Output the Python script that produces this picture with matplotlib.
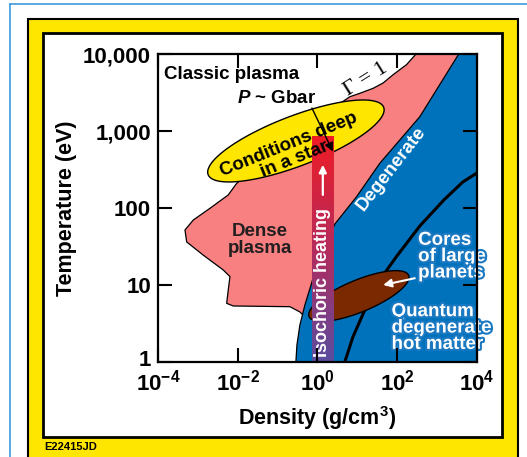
import numpy as np
import matplotlib
matplotlib.use("Agg")
import matplotlib.pyplot as plt
import matplotlib.patheffects as pe
from matplotlib.patches import Rectangle
from matplotlib.lines import Line2D
from matplotlib.colors import LinearSegmentedColormap
from matplotlib.transforms import ScaledTranslation

plt.rcParams['font.family'] = ['Liberation Sans', 'DejaVu Sans']
plt.rcParams['font.weight'] = 'bold'
plt.rcParams['mathtext.fontset'] = 'custom'
plt.rcParams['mathtext.rm'] = 'Liberation Sans:bold'
plt.rcParams['mathtext.bf'] = 'Liberation Sans:bold'
plt.rcParams['mathtext.it'] = 'Liberation Sans:bold:italic'

# axis ticks
x_ticks = [1e-4, 1e-2, 1e0, 1e2, 1e4]
x_tick_labels = [r'$10^{-4}$', r'$10^{-2}$', r'$10^{0}$', r'$10^{2}$', r'$10^{4}$']
y_ticks = [1, 10, 100, 1000, 10000]
y_tick_labels = ['1', '10', '100', '1,000', '10,000']

# dense plasma region (Gamma = 1 line on top, then the lobe on the left)
pink_rho = [355, 171, 78.9, 44.4, 24.9, 11.6, 6.49, 0.362, 9.38e-3,
            5.78e-3, 2.01e-3, 7.67e-4, 4.75e-4, 5.24e-4, 1.36e-3, 4.34e-3,
            6.38e-3, 5.78e-3, 5.27e-3, 7.71e-3, 0.203, 0.362, 10, 2e4, 2e4]
pink_t = [11200, 7330, 5430, 4240, 3610, 3110, 2805, 1014, 209,
          148, 99.1, 69.8, 51.8, 36.2, 24.4, 15.6,
          12.8, 8.57, 5.75, 5.31, 5.20, 4.44, 0.8, 0.8, 12000]

# degenerate region, left boundary from top to bottom
blue_rho = [4300, 368, 36.6, 9.44, 2.73, 1.15, 0.711, 0.483, 0.362, 0.305, 0.28, 2e4, 2e4]
blue_t = [12000, 1540, 382, 139, 61.9, 24.4, 10.5, 5.47, 3.01, 1.65, 0.8, 0.8, 12000]

# quantum degenerate boundary
curve_rho = [9890, 4406, 1472, 368, 97.7, 36.6, 14.6, 7.71, 4.86]
curve_t = [285, 218, 127, 58.3, 23.7, 11.6, 4.44, 2.09, 1.0]

# ellipses: centre (rho, T), semi axes in axes-width units, tilt in degrees
star_centre = (0.2875, 745)
star_axes = (0.2947, 0.0784, 21)
planet_centre = (10.9, 7.16)
planet_axes = (0.169, 0.050, 22.5)

# isochoric heating bar
bar_rho = (0.71, 2.6)
bar_t = (1.0, 870)

PINK = '#f88080'
BLUE = '#0072bc'
YELLOW = '#ffe600'
BROWN = '#7a2900'

fig = plt.figure(figsize=(5.27, 4.57), dpi=100)

# frame decorations
fig.add_artist(Line2D([0.019, 0.019], [0, 0.9912], color='#3d9bdb', lw=1.2, zorder=-5))
fig.add_artist(Line2D([0.019, 1.0], [0.9912, 0.9912], color='#3d9bdb', lw=1.2, zorder=-5))
fig.add_artist(Rectangle((0.0537, -0.05), 0.9287, 1.0084, facecolor=YELLOW,
                         edgecolor='black', lw=1.5, zorder=-4))
fig.add_artist(Rectangle((0.0822, 0.0431), 0.8698, 0.884, facecolor='white',
                         edgecolor='black', lw=2, zorder=-3))
fig.text(0.0835, 0.0219, 'E22415JD', fontsize=8, fontweight='bold', va='center', ha='left')

ax = fig.add_axes([0.2998, 0.2085, 0.6053, 0.6727])
ax.set_xscale('log')
ax.set_yscale('log')
ax.set_xlim(1e-4, 1e4)
ax.set_ylim(1, 1e4)
ax.patch.set_alpha(0)


def ellipse(centre, shape, n=200):
    a, b, ang = shape
    ang = np.radians(ang)
    t = np.linspace(0, 2 * np.pi, n)
    du = a * np.cos(t) * np.cos(ang) - b * np.sin(t) * np.sin(ang)
    dv = a * np.cos(t) * np.sin(ang) + b * np.sin(t) * np.cos(ang)
    bb = ax.get_position()
    aspect = (bb.width * fig.get_figwidth()) / (bb.height * fig.get_figheight())
    x = 10 ** (np.log10(centre[0]) + du * 8)
    y = 10 ** (np.log10(centre[1]) + dv * aspect * 4)
    return x, y


ax.fill(pink_rho, pink_t, facecolor=PINK, edgecolor='black', lw=0.9, zorder=1)
ax.fill(blue_rho, blue_t, facecolor=BLUE, edgecolor='black', lw=0.9, zorder=1.2)
ax.plot(curve_rho, curve_t, color='black', lw=2.2, zorder=2)

ex, ey = ellipse(star_centre, star_axes)
ax.fill(ex, ey, facecolor=YELLOW, edgecolor='black', lw=1, zorder=3)
ex, ey = ellipse(planet_centre, planet_axes)
ax.fill(ex, ey, facecolor=BROWN, edgecolor='black', lw=1, zorder=3)

# gradient bar
cmap = LinearSegmentedColormap.from_list('bar', [(0, '#5b4c9e'), (0.5, '#b42a5c'), (1, '#ee1c25')])
levels = np.logspace(np.log10(bar_t[0]), np.log10(bar_t[1]), 81)
for i in range(len(levels) - 1):
    ax.fill_between(bar_rho, levels[i], levels[i + 1] * 1.002, color=cmap(i / (len(levels) - 2)),
                    lw=0, zorder=4)

outline = [pe.withStroke(linewidth=3, foreground='#1b79c2')]
fs = 13.5
ax.text(1.41e-4, 5380, 'Classic plasma', ha='left', va='center', fontsize=fs, zorder=6)
ax.text(0.94, 2620, r'$P$ ~ Gbar', ha='right', va='center', fontsize=fs, zorder=6)
ax.annotate('', xy=(2.43, 543), xytext=(0.724, 2000), zorder=6,
            arrowprops=dict(arrowstyle='-|>', color='black', lw=1, mutation_scale=13,
                            shrinkA=0, shrinkB=0))
ax.text(0.228, 535, 'Conditions deep\nin a star', ha='center', va='center', fontsize=fs,
        rotation=22, rotation_mode='anchor', linespacing=0.95, zorder=6)
ax.text(0.036, 38.3, 'Dense\nplasma', ha='center', va='center', fontsize=fs,
        color='#231f20', linespacing=0.95, zorder=6)
ax.text(1.36, 1.15, 'Isochoric heating', ha='left', va='center', fontsize=13,
        color='white', rotation=90, rotation_mode='anchor', zorder=6)
ax.annotate('', xy=(1.36, 365), xytext=(1.36, 148), zorder=6,
            arrowprops=dict(arrowstyle='-|>', color='white', lw=1.6, mutation_scale=11,
                            shrinkA=0, shrinkB=0))
ax.text(71.6, 322, 'Degenerate', ha='center', va='center', fontsize=fs, color='white',
        rotation=52, rotation_mode='anchor', zorder=6)
ax.text(334, 23.3, 'Cores\nof large\nplanets', ha='left', va='center', fontsize=fs,
        color='white', linespacing=0.95, path_effects=outline, zorder=6)
ax.text(72, 2.745, 'Quantum\ndegenerate\nhot matter', ha='left', va='center', fontsize=fs,
        color='white', linespacing=0.95, path_effects=outline, zorder=6)
ax.annotate('', xy=(44.4, 9.96), xytext=(276, 12.2), zorder=6,
            arrowprops=dict(arrowstyle='-|>', color='white', lw=1.5, mutation_scale=12,
                            shrinkA=0, shrinkB=0))
ax.text(16.3, 4770, '\u0393 = 1', family='Liberation Serif', fontweight='normal',
        fontsize=16, ha='center', va='center', rotation=32, rotation_mode='anchor', zorder=6)

ax.set_xticks(x_ticks)
ax.set_xticklabels(x_tick_labels)
ax.set_yticks(y_ticks)
ax.set_yticklabels(y_tick_labels)
ax.minorticks_off()
ax.tick_params(direction='in', length=10, width=1.5, top=True, right=True, labelsize=16)
ax.tick_params(axis='y', pad=5)
ax.tick_params(axis='x', pad=6)
for s in ax.spines.values():
    s.set_linewidth(1.6)
    s.set_zorder(7)
ax.xaxis.set_zorder(7)
ax.yaxis.set_zorder(7)

# lift the bottom "1" a little so it clears the 10^-4 label
low = ax.get_yticklabels()[0]
low.set_transform(low.get_transform() + ScaledTranslation(0, 3 / 72, fig.dpi_scale_trans))

ax.set_xlabel(r'Density (g/cm$^{3}$)', fontsize=15.5, fontweight='bold')
ax.set_ylabel('Temperature (eV)', fontsize=15.5, fontweight='bold')
ax.xaxis.label.set_va('center')
ax.yaxis.label.set_va('center')
ax.xaxis.set_label_coords(0.5, -0.183)
ax.yaxis.set_label_coords(-0.287, 0.5)

fig.savefig('out.png', dpi=100)
